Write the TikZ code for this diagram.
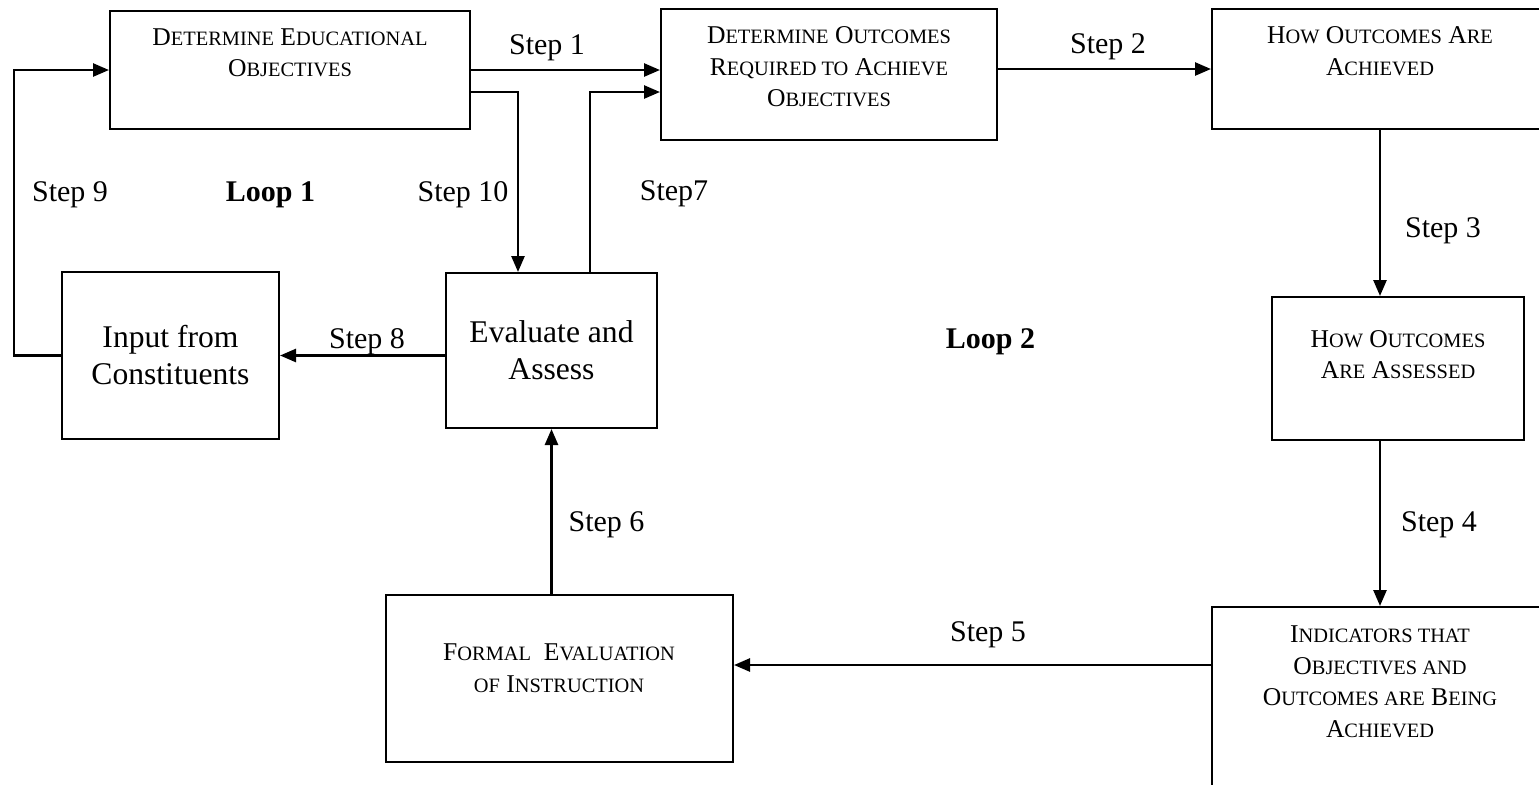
\documentclass[tikz,border=0pt]{standalone}
\usepackage{fontspec}
\setmainfont{Liberation Serif}
\usetikzlibrary{arrows.meta}
\newcommand{\lowsc}[1]{{\fontsize{10.2}{15.75}\selectfont #1}}

\begin{document}
\begin{tikzpicture}[x=0.5pt, y=-0.5pt,
  box/.style={draw, line width=1pt, inner sep=0pt},
  boxtext/.style={anchor=north, align=center, inner sep=0pt, font=\fontsize{12.8}{15.75}\selectfont},
  bigtext/.style={align=center, font=\fontsize{15.8}{18.5}\selectfont},
  steplabel/.style={anchor=base, inner sep=0pt, font=\fontsize{15}{18}\selectfont},
  arr/.style={-{Triangle[length=8pt,width=6.5pt]}, line width=1.3pt}]
  \useasboundingbox (0,0) rectangle (1539,784);
  \clip (0,0) rectangle (1539,784);

  % boxes
  \node[box, minimum width=180pt, minimum height=59pt] (objbox) at (290,70) {};
  \node[box, minimum width=168pt, minimum height=65.5pt] (outbox) at (829,74.5) {};
  \node[box, minimum width=168pt, minimum height=60pt] (achbox) at (1380,69) {};
  \node[box, minimum width=126pt, minimum height=71.5pt] (assbox) at (1398,368.5) {};
  \node[box, minimum width=168pt, minimum height=110pt] (indbox) at (1380,717) {};
  \node[box, minimum width=173.5pt, minimum height=83.5pt] (formbox) at (559.5,678.5) {};
  \node[box, bigtext, minimum width=105.5pt, minimum height=77.5pt] (evalbox) at (551.5,350.5) {Evaluate and\\Assess};
  \node[box, bigtext, minimum width=108.5pt, minimum height=83.5pt] (inputbox) at (170.5,355.5) {Input from\\Constituents};

  % box texts
  \node[boxtext] (objtext) at (290,28) {D\lowsc{ETERMINE} E\lowsc{DUCATIONAL}\\O\lowsc{BJECTIVES}};
  \node[boxtext] (outtext) at (829,26.3) {D\lowsc{ETERMINE} O\lowsc{UTCOMES}\\R\lowsc{EQUIRED TO} A\lowsc{CHIEVE}\\O\lowsc{BJECTIVES}};
  \node[boxtext] (achtext) at (1380,26.3) {H\lowsc{OW} O\lowsc{UTCOMES} A\lowsc{RE}\\A\lowsc{CHIEVED}};
  \node[boxtext] (asstext) at (1398,330) {H\lowsc{OW} O\lowsc{UTCOMES}\\A\lowsc{RE} A\lowsc{SSESSED}};
  \node[boxtext] (indtext) at (1380,625.4) {I\lowsc{NDICATORS THAT}\\O\lowsc{BJECTIVES AND}\\O\lowsc{UTCOMES ARE} B\lowsc{EING}\\A\lowsc{CHIEVED}};
  \node[boxtext] (formtext) at (559,643.4) {F\lowsc{ORMAL}\ \ E\lowsc{VALUATION}\\\lowsc{OF} I\lowsc{NSTRUCTION}};

  % connectors
  \coordinate (s10) at ([yshift=-11pt]objbox.east);
  \coordinate (s7) at ([yshift=-8.75pt]outbox.west);
  \coordinate (s5) at ([yshift=-29.5pt]indbox.north west);
  \draw[arr] (objbox.east) -- (objbox.east -| outbox.west);
  \draw[arr] (achbox.west -| outbox.east) -- (achbox.west);
  \draw[arr] (achbox.south) -- (achbox.south |- assbox.north);
  \draw[arr] (assbox.south -| indbox.north) -- (indbox.north);
  \draw[arr] (s5) -- (s5 -| formbox.east);
  \draw[arr] (evalbox.south |- formbox.north) -- (evalbox.south);
  \draw[arr] ([xshift=19.25pt]evalbox.north) |- (s7);
  \draw[arr] (evalbox.west |- inputbox.east) -- (inputbox.east);
  \draw[arr] (inputbox.west) -- ++(-47,0) |- (objbox.west);
  \draw[arr] (s10) -| ([xshift=-16.75pt]evalbox.north);

  % labels
  \node[steplabel] (l1) at (547,54.5) {Step 1};
  \node[steplabel] (l2) at (1108,53) {Step 2};
  \node[steplabel] (l3) at (1443,237) {Step 3};
  \node[steplabel] (l4) at (1439,531) {Step 4};
  \node[steplabel] (l5) at (988,641.7) {Step 5};
  \node[steplabel] (l6) at (606.5,531) {Step 6};
  \node[steplabel] (l7) at (674,200) {Step7};
  \node[steplabel] (l8) at (367,348.8) {Step 8};
  \node[steplabel] (l9) at (70,201) {Step 9};
  \node[steplabel] (l10) at (463,201) {Step 10};
  \node[steplabel, font=\fontsize{15}{18}\selectfont\bfseries] (loop1) at (270.5,201) {Loop 1};
  \node[steplabel, font=\fontsize{15}{18}\selectfont\bfseries] (loop2) at (990.5,348.8) {Loop 2};
\end{tikzpicture}
\end{document}
